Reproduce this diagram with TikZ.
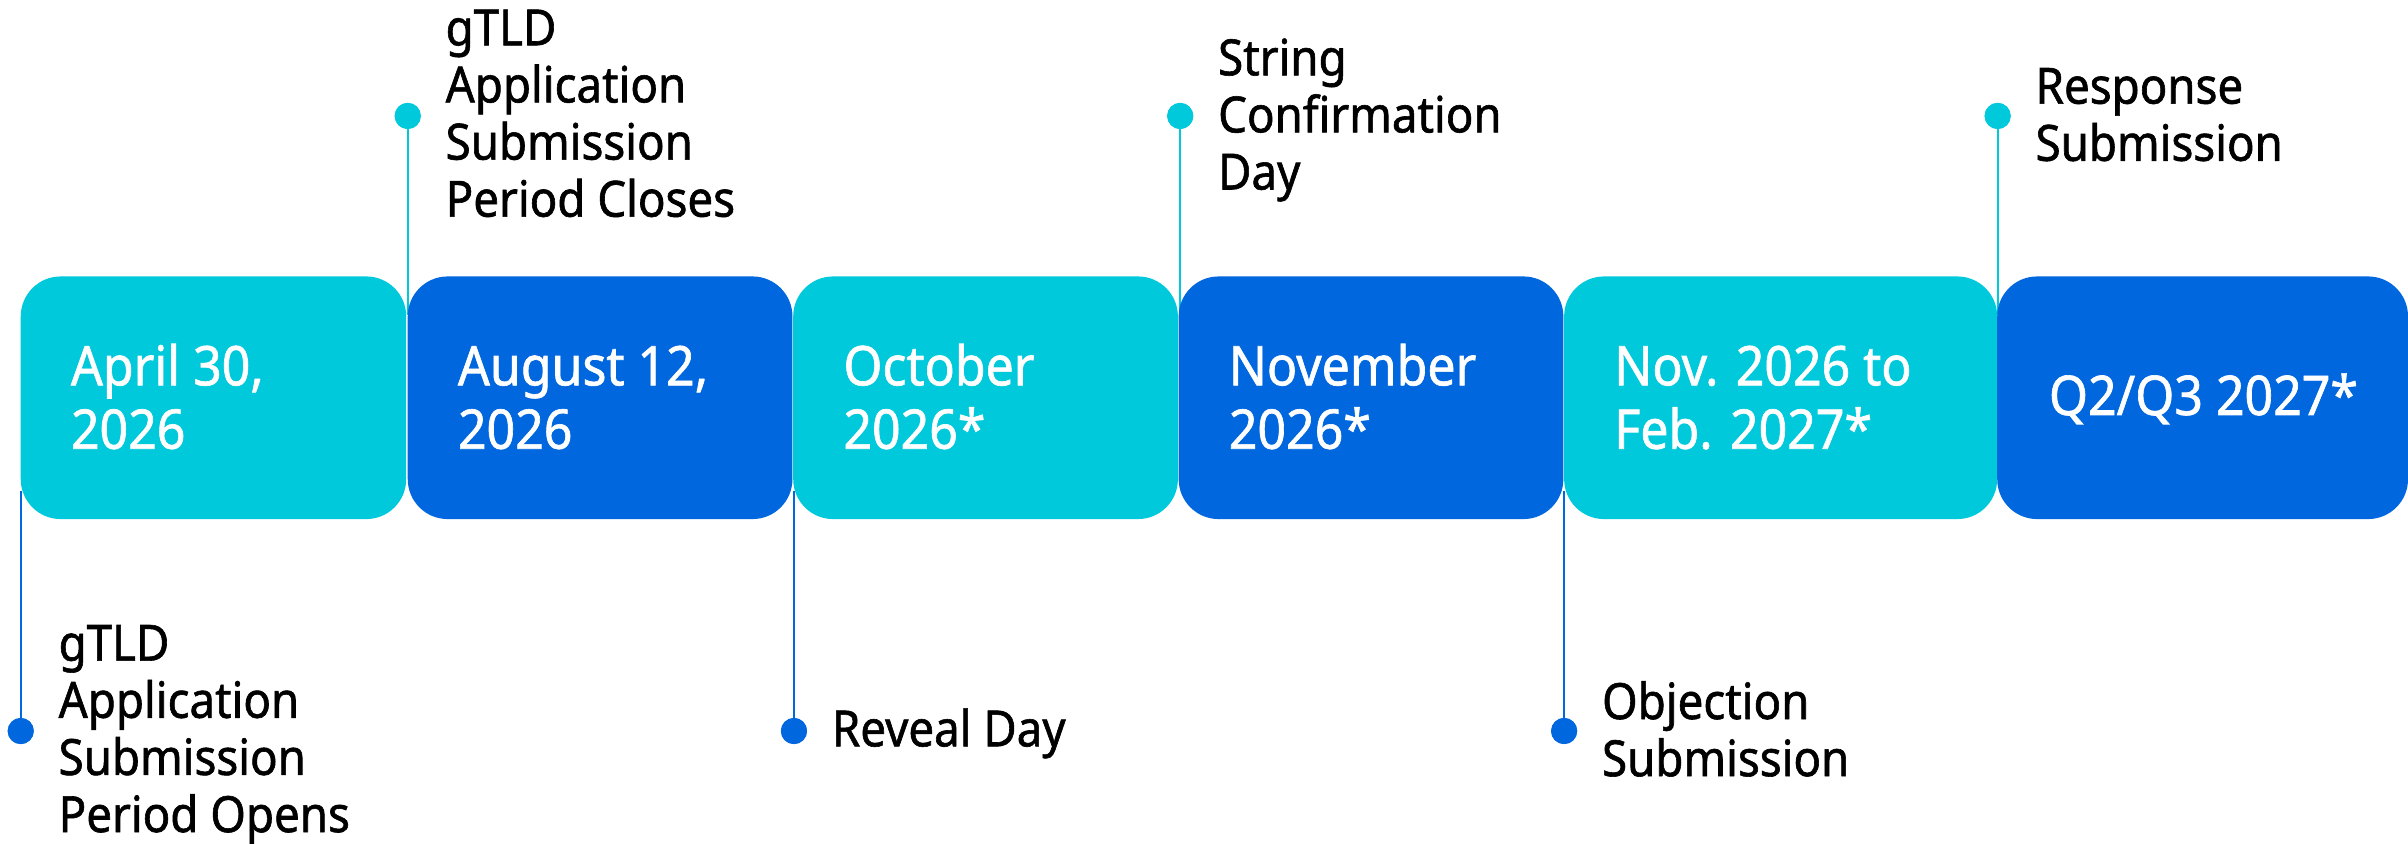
\documentclass[tikz,border=0pt]{standalone}
\usepackage{fontspec}
\setmainfont{Noto Sans}
\newfontfamily\tlfont[FakeStretch=0.915,FakeBold=1.2]{Noto Sans}
\usetikzlibrary{calc}
\definecolor{tlcyan}{RGB}{0,201,220}
\definecolor{tlblue}{RGB}{0,103,223}
\newcommand\boxstrut{\rule{0pt}{30pt}}
\newcommand\labstrut{\rule{0pt}{28pt}}
\begin{document}
\begin{tikzpicture}[x=1pt,y=-1pt,
  datebox/.style={rectangle, rounded corners=26pt, inner sep=0pt, minimum height=158pt, draw=none},
  datetext/.style={anchor=north west, inner sep=0pt, align=left, text=white, font=\tlfont\fontsize{35.6}{41.3}\selectfont},
  evlabel/.style={anchor=north west, inner sep=0pt, align=left, text=black, font=\tlfont\fontsize{32.5}{37.2}\selectfont},
  evdot/.style={circle, inner sep=0pt, minimum size=17pt},
  evline/.style={line width=1.1pt},
]
\useasboundingbox (0,0) rectangle (1568,549);

% dots and connector end points
\node[evdot, fill=tlblue] (d1) at (13.5,476) {};
\node[evdot, fill=tlcyan] (d2) at (265.5,75.5) {};
\node[evdot, fill=tlblue] (d3) at (517,476) {};
\node[evdot, fill=tlcyan] (d4) at (768.5,75.5) {};
\node[evdot, fill=tlblue] (d5) at (1018.5,476) {};
\node[evdot, fill=tlcyan] (d6) at (1300.8,75.5) {};
\coordinate (e1) at (13.5,320);
\coordinate (e2) at (265.5,205);
\coordinate (e3) at (517,320);
\coordinate (e4) at (768.5,205);
\coordinate (e5) at (1018.5,320);
\coordinate (e6) at (1300.8,205);
\draw[evline, tlblue] (d1.center) -- (e1);
\draw[evline, tlcyan] (d2.center) -- (e2);
\draw[evline, tlblue] (d3.center) -- (e3);
\draw[evline, tlcyan] (d4.center) -- (e4);
\draw[evline, tlblue] (d5.center) -- (e5);
\draw[evline, tlcyan] (d6.center) -- (e6);

% boxes
\node[datebox, fill=tlcyan, minimum width=251pt] (b1) at (139,259) {};
\node[datebox, fill=tlblue, minimum width=250.5pt] (b2) at (390.75,259) {};
\node[datebox, fill=tlcyan, minimum width=250.5pt] (b3) at (641.75,259) {};
\node[datebox, fill=tlblue, minimum width=250.5pt] (b4) at (892.75,259) {};
\node[datebox, fill=tlcyan, minimum width=282pt] (b5) at (1159.5,259) {};
\node[datebox, fill=tlblue, minimum width=267.5pt] (b6) at (1434.25,259) {};

% redraw dots above lines
\fill[tlblue] (d1.center) circle (8.5pt);
\fill[tlcyan] (d2.center) circle (8.5pt);
\fill[tlblue] (d3.center) circle (8.5pt);
\fill[tlcyan] (d4.center) circle (8.5pt);
\fill[tlblue] (d5.center) circle (8.5pt);
\fill[tlcyan] (d6.center) circle (8.5pt);

% box texts
\node[datetext] (t1) at (46,220.7) {\boxstrut April 30,\\2026};
\node[datetext] (t2) at (298,220.7) {\boxstrut August 12,\\2026};
\node[datetext] (t3) at (549,220.7) {\boxstrut October\\2026*};
\node[datetext] (t4) at (800,220.7) {\boxstrut November\\2026*};
\node[datetext] (t5) at (1051,220.7) {\boxstrut Nov. 2026 to\\Feb. 2027*};
\node[datetext, anchor=base] (t6) at (1434.8,270.2) {Q2/Q3 2027*};

% event labels
\node[evlabel] (l1) at (38,402) {\labstrut gTLD\\Application\\Submission\\Period Opens};
\node[evlabel] (l2) at (290,1.3) {\labstrut gTLD\\Application\\Submission\\Period Closes};
\node[evlabel] (l3) at (541.5,457.8) {\labstrut Reveal Day};
\node[evlabel] (l4) at (793,20.8) {\labstrut String\\Confirmation\\Day};
\node[evlabel] (l5) at (1043,440) {\labstrut Objection\\Submission};
\node[evlabel] (l6) at (1325.3,39.3) {\labstrut Response\\Submission};
\end{tikzpicture}
\end{document}
